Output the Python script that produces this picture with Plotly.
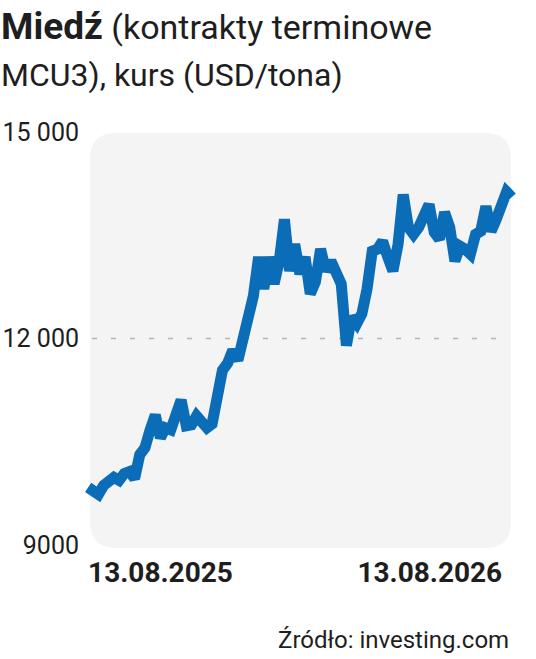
import plotly.graph_objects as go
import pandas as pd

start_date = "2025-05-07"
prices = [
    9837, 9779, 9736, 9865, 9923, 9981, 9938, 10038, 10067, 9966,
    10313, 10414, 10673, 10889, 10558, 10702, 10673, 10918, 11106, 10731,
    10745, 10875, 10774, 10702, 10760, 11164, 11538, 11639, 11827, 11683,
    12000, 12433, 12620, 13183, 12721, 13183, 12793, 13125, 13731, 12981,
    13370, 12937, 13183, 12649, 12822, 13298, 12981, 13125, 12937, 12793,
    11899, 12317, 12216, 12361, 12721, 13269, 13298, 13413, 13183, 12981,
    13370, 14091, 13615, 13514, 13615, 13803, 13947, 13543, 13442, 13832,
    13615, 13125, 13341, 13298, 13226, 13514, 13558, 13918, 13558, 13731,
    13990, 14130, 14050,
]
dates = pd.date_range(start_date, periods=len(prices), freq="7D")

x_tick_vals = ["2025-08-13", "2026-08-13"]
x_tick_text = ["13.08.2025", "13.08.2026"]
y_tick_vals = [9000, 12000, 15000]
y_tick_text = ["9000", "12 000", "15 000"]

title_bold = "Miedź"
title_line1 = " (kontrakty terminowe"
title_line2 = "MCU3), kurs (USD/tona)"
source_text = "Źródło: investing.com"

W, H = 536, 659
ML, MR, MT, MB = 80, 11, 120, 99
PW, PH = W - ML - MR, H - MT - MB

FONT = "Roboto"
TXT = "#1e1e1e"

fig = go.Figure()
fig.add_trace(go.Scatter(
    x=dates, y=prices, mode="lines",
    line=dict(color="#0b6db7", width=11),
    hoverinfo="skip", showlegend=False,
))

# rounded grey panel (pixel geometry converted to paper coords)
px0, px1 = 90, 511
py0, py1 = 133, 548
r = 26
def fx(p):
    return (p - ML) / PW
def fy(p):
    return (H - MB - p) / PH
path = (
    f"M {fx(px0 + r)} {fy(py0)} L {fx(px1 - r)} {fy(py0)} "
    f"Q {fx(px1)} {fy(py0)} {fx(px1)} {fy(py0 + r)} "
    f"L {fx(px1)} {fy(py1 - r)} Q {fx(px1)} {fy(py1)} {fx(px1 - r)} {fy(py1)} "
    f"L {fx(px0 + r)} {fy(py1)} Q {fx(px0)} {fy(py1)} {fx(px0)} {fy(py1 - r)} "
    f"L {fx(px0)} {fy(py0 + r)} Q {fx(px0)} {fy(py0)} {fx(px0 + r)} {fy(py0)} Z"
)
fig.add_shape(type="path", path=path, xref="paper", yref="paper",
              fillcolor="#f4f4f5", line=dict(width=0), layer="below")
fig.add_shape(type="line", xref="paper", yref="y",
              x0=fx(px0 + 2), x1=fx(px1 - 2), y0=12000, y1=12000,
              line=dict(color="#b4b4b4", width=1.5, dash="5px,14px"), layer="below")

fig.add_annotation(
    text=f"<b><span style='font-size:37px'>{title_bold}</span></b>{title_line1}",
    xref="paper", yref="paper", x=fx(-1), y=fy(27),
    xanchor="left", yanchor="middle", align="left", showarrow=False,
    font=dict(family=FONT, size=34, color=TXT),
)
fig.add_annotation(
    text=title_line2,
    xref="paper", yref="paper", x=fx(-1), y=fy(75),
    xanchor="left", yanchor="middle", align="left", showarrow=False,
    font=dict(family=FONT, size=32, color=TXT),
)
fig.add_annotation(
    text=source_text, xref="paper", yref="paper", x=fx(511), y=fy(640),
    xanchor="right", yanchor="middle", showarrow=False,
    font=dict(family=FONT, size=24, color=TXT),
)

fig.update_layout(
    width=W, height=H,
    margin=dict(l=ML, r=MR, t=MT, b=MB, pad=0),
    paper_bgcolor="white", plot_bgcolor="rgba(0,0,0,0)",
    font=dict(family=FONT, color=TXT),
    xaxis=dict(
        type="date", range=["2025-04-26", "2026-12-20"],
        tickvals=x_tick_vals, ticktext=x_tick_text,
        showgrid=False, zeroline=False, showline=False, ticks="",
        tickfont=dict(family=FONT, size=28, color=TXT, weight="bold"),
        ticklabelstandoff=-7, automargin=False,
    ),
    yaxis=dict(
        range=[8782, 15174],
        tickvals=y_tick_vals, ticktext=y_tick_text,
        showgrid=False, zeroline=False, showline=False, ticks="",
        tickfont=dict(family=FONT, size=25, color=TXT),
        ticklabelstandoff=0, automargin=False,
    ),
)

fig.write_html(
    "out.html",
    config={"displayModeBar": False, "staticPlot": True},
    post_script="document.body.style.margin='0';document.body.style.overflow='hidden';",
)
